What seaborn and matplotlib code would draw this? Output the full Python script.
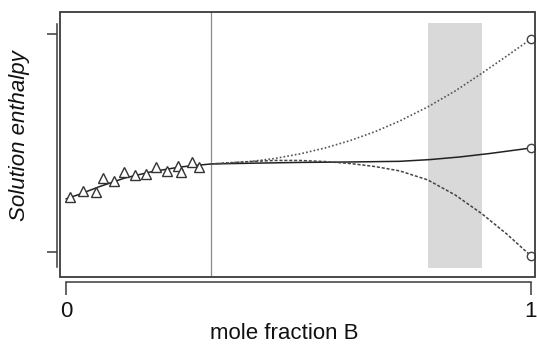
import numpy as np
import pandas as pd
import matplotlib
matplotlib.use("Agg")
import matplotlib.pyplot as plt
from matplotlib.patches import Rectangle
import seaborn as sns

# ---- data ----
obs_x = [0.009, 0.037, 0.065, 0.080, 0.103, 0.125, 0.148, 0.172, 0.194, 0.217, 0.241, 0.247, 0.271, 0.286]
obs_y = [0.252, 0.281, 0.276, 0.339, 0.325, 0.366, 0.352, 0.357, 0.389, 0.371, 0.394, 0.366, 0.412, 0.389]

fit_x = [0.0, 0.030, 0.073, 0.127, 0.181, 0.245, 0.312, 0.417, 0.503, 0.611, 0.718, 0.783, 0.847, 0.912, 1.0]
fit_y = [0.243, 0.265, 0.300, 0.339, 0.366, 0.389, 0.403, 0.407, 0.410, 0.412, 0.415, 0.423, 0.435, 0.451, 0.476]

upper_x = [0.312, 0.396, 0.449, 0.503, 0.557, 0.611, 0.665, 0.718, 0.778, 0.837, 0.895, 0.948, 1.0]
upper_y = [0.403, 0.414, 0.428, 0.449, 0.476, 0.510, 0.551, 0.600, 0.664, 0.737, 0.819, 0.897, 0.975]

lower_x = [0.312, 0.396, 0.449, 0.503, 0.557, 0.611, 0.665, 0.718, 0.778, 0.837, 0.895, 0.948, 1.0]
lower_y = [0.403, 0.414, 0.419, 0.419, 0.414, 0.405, 0.391, 0.371, 0.330, 0.261, 0.174, 0.082, -0.018]

end_x = [1.0, 1.0, 1.0]
end_y = [0.975, 0.476, -0.018]

vline_x = 0.312
band = (0.778, 0.895)
band_y = (-0.073, 1.048)

x_ticks = [0, 1]
x_ticklabels = ["0", "1"]
y_ticks = [0, 1]
xlabel = "mole fraction B"
ylabel = "Solution enthalpy"

# ---- style ----
sns.set_style("white")
plt.rcParams["font.family"] = ["Liberation Sans", "DejaVu Sans"]

fig = plt.figure(figsize=(5.37, 3.47), dpi=100)
ax = fig.add_axes([60/537, 1-277/347, 475/537, 265/347])

dark = "#3a3a3a"

# shaded band
ax.fill_between(list(band), [band_y[0]]*2, [band_y[1]]*2, color="#d9d9d9", lw=0, zorder=0)
# vertical reference line
ax.axvline(vline_x, color="#8a8a8a", lw=0.9, zorder=1)

df_fit = pd.DataFrame({"x": fit_x, "y": fit_y})
df_up = pd.DataFrame({"x": upper_x, "y": upper_y})
df_lo = pd.DataFrame({"x": lower_x, "y": lower_y})

sns.lineplot(data=df_fit, x="x", y="y", ax=ax, color="#222222", lw=1.1, sort=False, zorder=3)
sns.lineplot(data=df_up, x="x", y="y", ax=ax, color="#555555", lw=1.2, sort=False,
             linestyle=(0, (1, 1.3)), zorder=3)
sns.lineplot(data=df_lo, x="x", y="y", ax=ax, color="#444444", lw=1.1, sort=False,
             linestyle=(0, (2, 1.2)), zorder=3)

ax.plot(obs_x, obs_y, linestyle="none", marker="^", markersize=7.8,
        markerfacecolor="white", markeredgecolor="#333333", markeredgewidth=1.0, zorder=4)
ax.plot(end_x, end_y, linestyle="none", marker="o", markersize=6,
        markerfacecolor="white", markeredgecolor="#444444", markeredgewidth=1.0, zorder=4)

ax.set_xlim(-6/465, 469/465)
ax.set_ylim((252-277)/218.5, (252-12)/218.5)

# R-style offset axes
for s in ["top", "right"]:
    ax.spines[s].set_visible(False)
ax.spines["bottom"].set_position(("outward", 3.6))
ax.spines["bottom"].set_bounds(0, 1)
ax.spines["left"].set_position(("outward", 2.4))
ax.spines["left"].set_bounds(-0.069, 1.043)
for s in ["bottom", "left"]:
    ax.spines[s].set_color(dark)
    ax.spines[s].set_linewidth(1.1)

ax.set_xticks(x_ticks)
ax.set_xticklabels(x_ticklabels)
ax.set_yticks(y_ticks)
ax.set_yticklabels([])
ax.tick_params(axis="x", direction="out", length=9.4, width=1.1, color=dark,
               pad=4, labelsize=16, labelcolor="#111111", bottom=True)
ax.tick_params(axis="y", direction="out", length=7.2, width=1.1, color=dark, left=True)

# box frame
ax.add_patch(Rectangle((0, 0), 1, 1, transform=ax.transAxes, fill=False,
                       edgecolor=dark, lw=1.3, clip_on=False, zorder=5))

ax.set_xlabel(xlabel, fontsize=16, color="#111111")
ax.set_ylabel(ylabel, fontsize=16, style="italic", color="#111111")
ax.xaxis.set_label_coords(0.472, -0.175)
ax.yaxis.set_label_coords(-0.063, 0.532)

fig.savefig("out.png", dpi=100)
